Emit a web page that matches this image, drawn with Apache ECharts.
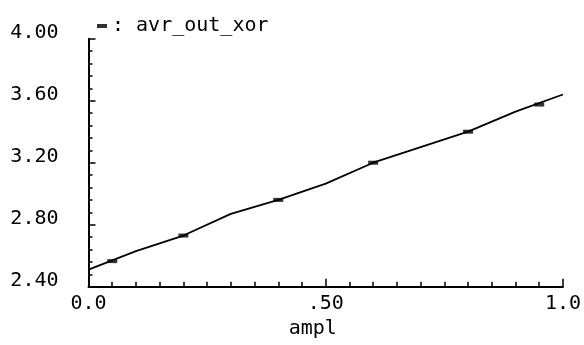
<!DOCTYPE html>
<html>
<head>
<meta charset="utf-8">
<script src="https://cdn.jsdelivr.net/npm/echarts@6/dist/echarts.min.js"></script>
<style>
html,body{margin:0;padding:0;background:#fff;}
#c{width:584px;height:345px;}
</style>
</head>
<body>
<div id="c"></div>
<script>
// Curve sampled every 0.1 on ampl
var amplX = [0.0, 0.1, 0.2, 0.3, 0.4, 0.5, 0.6, 0.7, 0.8, 0.9, 1.0];
var avrOutXor = [2.51, 2.63, 2.73, 2.87, 2.96, 3.065, 3.20, 3.30, 3.40, 3.53, 3.64];
// Marker positions along the curve
var markerX = [0.05, 0.2, 0.4, 0.6, 0.8, 0.95];
var markerY = [2.565, 2.73, 2.96, 3.20, 3.40, 3.575];
// Tick labels
var xTickValues = [0, 0.5, 1];
var xTickLabels = ['0.0', '.50', '1.0'];
var yTickValues = [2.4, 2.8, 3.2, 3.6, 4.0];
var yTickLabels = ['2.40', '2.80', '3.20', '3.60', '4.00'];
var seriesName = 'avr_out_xor';
var xName = 'ampl';

var FONT = 'DejaVu Sans Mono';
function pair(xs, ys) { return xs.map(function (x, i) { return [x, ys[i]]; }); }
function lookup(vals, labels, v) {
  for (var i = 0; i < vals.length; i++) { if (Math.abs(vals[i] - v) < 1e-9) return labels[i]; }
  return '';
}

var chart = echarts.init(document.getElementById('c'), null, {renderer: 'canvas'});
chart.setOption({
  animation: false,
  backgroundColor: '#fff',
  grid: {left: 88.5, right: 15.7, top: 38.7, bottom: 58.3, containLabel: false},
  legend: {
    data: [{name: seriesName, icon: 'rect'}],
    left: 92, top: 11,
    itemWidth: 10, itemHeight: 4, itemGap: 10,
    formatter: function (n) { return ': ' + n; },
    textStyle: {fontFamily: FONT, fontSize: 20, color: '#000'},
    selectedMode: false
  },
  xAxis: {
    type: 'value', min: 0, max: 1, interval: 0.5,
    name: xName, nameLocation: 'middle', nameGap: 32,
    nameTextStyle: {fontFamily: FONT, fontSize: 20, color: '#000', padding: [0, 26, 0, 0]},
    axisLine: {show: true, onZero: false, lineStyle: {color: '#000', width: 2}},
    axisTick: {show: true, inside: true, length: 8, lineStyle: {color: '#000', width: 1.5}},
    minorTick: {show: true, splitNumber: 10, length: 5, lineStyle: {color: '#000', width: 1.5}},
    splitLine: {show: false},
    minorSplitLine: {show: false},
    axisLabel: {
      margin: 7, fontFamily: FONT, fontSize: 20, color: '#000',
      formatter: function (v) { return lookup(xTickValues, xTickLabels, v); }
    }
  },
  yAxis: {
    type: 'value', min: 2.4, max: 4.0, interval: 0.4,
    axisLine: {show: true, onZero: false, lineStyle: {color: '#000', width: 2}},
    axisTick: {show: true, inside: true, length: 7, lineStyle: {color: '#000', width: 1.5}},
    minorTick: {show: true, splitNumber: 5, length: 4, lineStyle: {color: '#000', width: 1.5}},
    splitLine: {show: false},
    minorSplitLine: {show: false},
    axisLabel: {
      margin: 30, fontFamily: FONT, fontSize: 20, color: '#000',
      verticalAlign: 'bottom', lineHeight: 12,
      formatter: function (v) { return lookup(yTickValues, yTickLabels, v); }
    }
  },
  series: [
    {
      name: 'curve', type: 'line', data: pair(amplX, avrOutXor),
      showSymbol: false, symbol: 'none',
      lineStyle: {color: '#000', width: 1.8},
      itemStyle: {color: '#000'},
      z: 2
    },
    {
      name: seriesName, type: 'scatter', data: pair(markerX, markerY),
      symbol: 'rect', symbolSize: [10, 4],
      itemStyle: {color: '#000'},
      z: 3
    }
  ]
});
</script>
</body>
</html>
